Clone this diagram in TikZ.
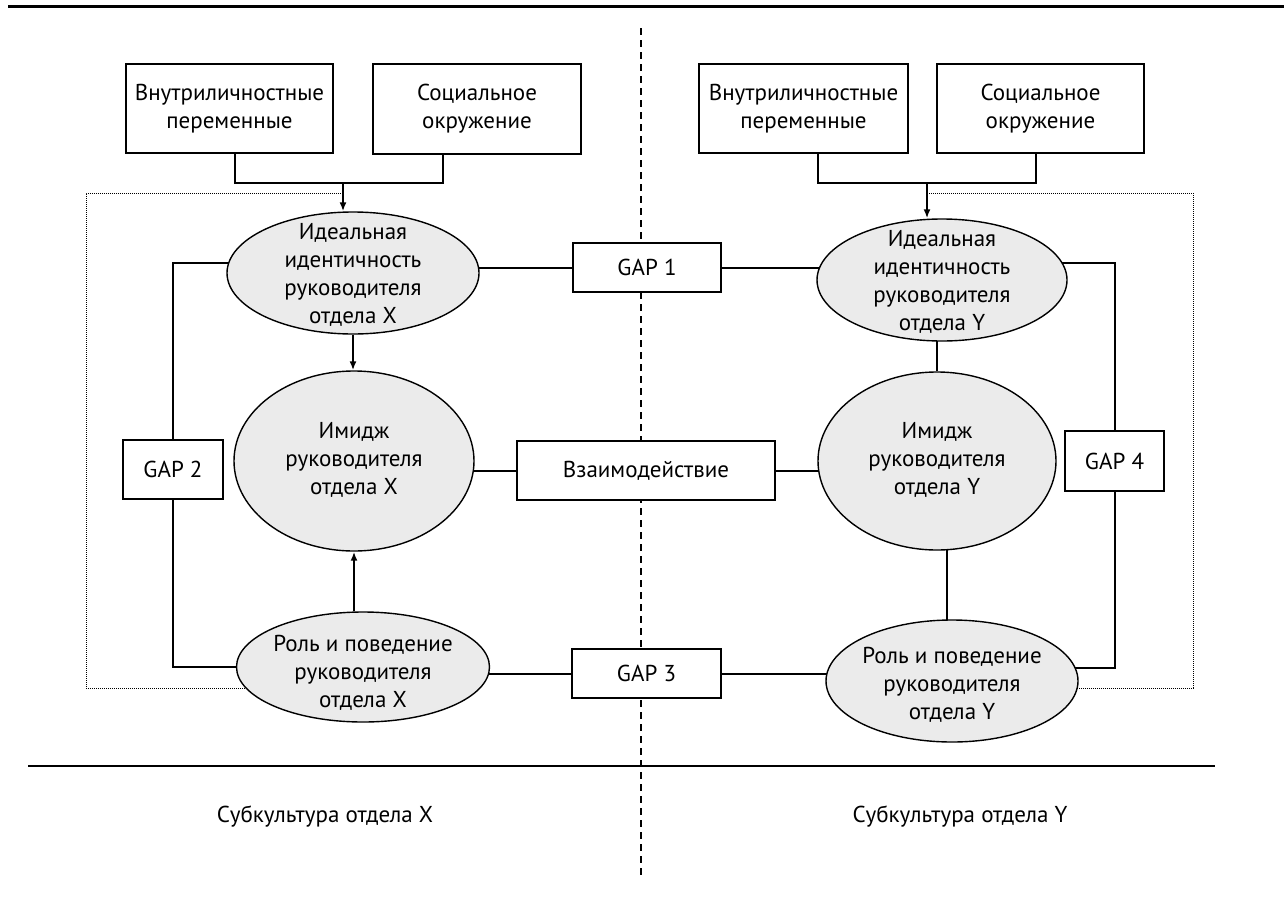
\documentclass[tikz,border=0pt]{standalone}
\usepackage{fontspec}
\setmainfont{PT Sans}
\usetikzlibrary{shapes.geometric,arrows.meta,backgrounds}
\definecolor{ellfill}{HTML}{EBEBEB}
\tikzset{
  txt/.style={align=center, font=\fontsize{23}{28}\selectfont, inner sep=0pt},
  box/.style={txt, draw, line width=1.8pt, fill=white},
  ell/.style={ellipse, draw, line width=1.4pt, fill=ellfill, inner sep=0pt},
  ln/.style={line width=2pt},
  arr/.style={line width=1.8pt, -{Latex[length=9pt,width=7pt]}},
  frame/.style={line width=0.9pt, dash pattern=on 1pt off 1pt},
  divider/.style={line width=1.4pt, dash pattern=on 7pt off 5pt},
}
\begin{document}
\begin{tikzpicture}[x=1pt, y=-1pt]
\useasboundingbox (0,0) rectangle (1284,902);

% rules and divider
\draw[line width=3pt] (8,6) -- (1284,6);
\draw[line width=2.5pt] (28,766) -- (1215,766);
\draw[divider] (641,28) -- (641,878);

% top boxes
\node[box, minimum width=207pt, minimum height=89pt] (A) at (229.5,108.5) {Внутриличностные\\переменные};
\node[box, minimum width=208pt, minimum height=90pt] (B) at (477,109) {Социальное\\окружение};
\node[box, minimum width=209pt, minimum height=89pt] (C) at (803.5,108.5) {Внутриличностные\\переменные};
\node[box, minimum width=207pt, minimum height=89pt] (D) at (1040.5,108.5) {Социальное\\окружение};

% ellipses
\node[ell, minimum width=252pt, minimum height=122pt] (idx) at (353,273) {};
\node[ell, minimum width=250pt, minimum height=122pt] (idy) at (942,280) {};
\node[ell, minimum width=240pt, minimum height=180pt] (imx) at (354,461) {};
\node[ell, minimum width=238pt, minimum height=178pt] (imy) at (937,461) {};
\node[ell, minimum width=253pt, minimum height=110pt] (rox) at (363,667) {};
\node[ell, minimum width=252pt, minimum height=122pt] (roy) at (952,681) {};

\node[txt] (idxt) at (353,275) {Идеальная\\идентичность\\руководителя\\отдела X};
\node[txt] (idyt) at (942,282) {Идеальная\\идентичность\\руководителя\\отдела Y};
\node[txt] (imxt) at (354,460) {Имидж\\руководителя\\отдела X};
\node[txt] (imyt) at (937,460) {Имидж\\руководителя\\отдела Y};
\node[txt] (roxt) at (363,673) {Роль и поведение\\руководителя\\отдела X};
\node[txt] (royt) at (952,685) {Роль и поведение\\руководителя\\отдела Y};

% gap boxes
\node[box, minimum width=148pt, minimum height=49pt] (g1) at (647,267.5) {GAP 1};
\node[box, minimum width=100pt, minimum height=59pt] (g2) at (173,469.5) {GAP 2};
\node[box, minimum width=258pt, minimum height=59pt] (vz) at (646,470.5) {Взаимодействие};
\node[box, minimum width=149pt, minimum height=49pt] (g3) at (646.5,673.5) {GAP 3};
\node[box, minimum width=99pt, minimum height=60pt] (g4) at (1114.5,461) {GAP 4};

% bottom labels
\node[txt] (sx) at (325,817) {Субкультура отдела X};
\node[txt] (sy) at (960,817) {Субкультура отдела Y};

% junctions and frame corners
\coordinate (jl) at (343,183);
\coordinate (jr) at (927,183);
\coordinate (fl1) at (86,193);
\coordinate (fl2) at (86,688);
\coordinate (fr1) at (1193,193);
\coordinate (fr2) at (1193,688);

\begin{scope}[on background layer]
  \draw[frame] (fl1 -| jl) -- (fl1) -- (fl2) -- (fl2 -| rox.center);
  \draw[frame] (fr1 -| jr) -- (fr1) -- (fr2) -- (fr2 -| roy.center);
  \draw[ln] (idx.center) ++(0,-10) -| (g2.north);
  \draw[ln] (g2.south) |- (rox.center);
  \draw[ln] (g1.west) -- (idx.center |- g1.west);
  \draw[ln] (g1.east) -- (idy.center |- g1.east);
  \draw[ln] (vz.west) -- (imx.center |- vz.west);
  \draw[ln] (vz.east) -- (imy.center |- vz.east);
  \draw[ln] (g3.west) -- (rox.center |- g3.west);
  \draw[ln] (g3.east) -- (roy.center |- g3.east);
  \draw[ln] (idy.center) ++(0,-17) -| (g4.north);
  \draw[ln] (roy.center) ++(0,-13) -| (g4.south);
  \draw[ln] (imy.north) -- (imy.north |- idy.center);
  \draw[ln] ([xshift=10pt]imy.center) -- ([xshift=10pt]imy.center |- roy.center);
\end{scope}

% brackets and arrows
\draw[ln] ([xshift=5.5pt]A.south) |- (jl) -| ([xshift=-34pt]B.south);
\draw[arr] (jl) -- (jl |- idx.north);
\draw[ln] ([xshift=14.5pt]C.south) |- (jr) -| ([xshift=-4.5pt]D.south);
\draw[arr] (jr) -- (jr |- idy.north);
\draw[arr] (idx.south) -- (idx.south |- imx.north);
\draw[arr] (imx.south |- rox.north) -- (imx.south);
\end{tikzpicture}
\end{document}
